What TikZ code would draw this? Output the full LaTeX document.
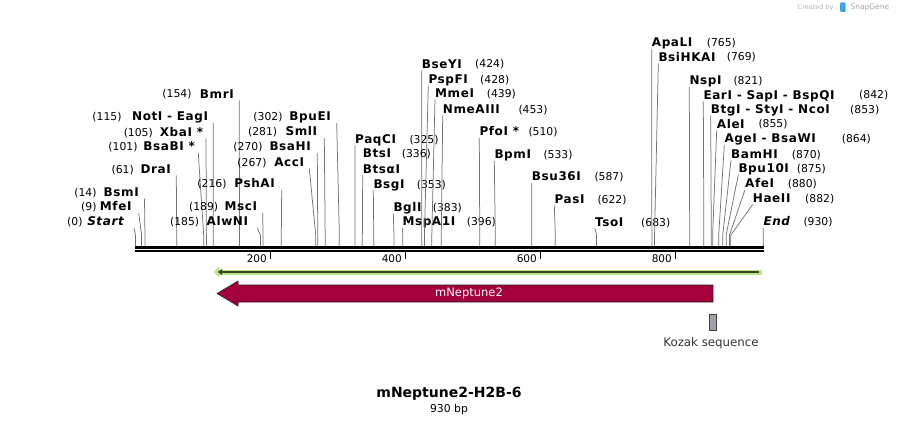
\documentclass[tikz,border=0pt]{standalone}
\usepackage{fontspec}
\setmainfont{DejaVu Sans}
\newfontfamily\enzfont[LetterSpace=5]{DejaVu Sans}
\usetikzlibrary{arrows.meta}
\definecolor{neptred}{RGB}{163,0,60}
\definecolor{featgreen}{RGB}{182,232,125}
\definecolor{featdark}{RGB}{58,66,46}
\definecolor{kozakgray}{RGB}{160,164,170}
\definecolor{sgblue}{RGB}{66,165,225}
\tikzset{
  ename/.style={font=\enzfont\fontsize{12}{14}\selectfont\bfseries, inner sep=0pt, text depth=2pt},
  epos/.style={font=\fontsize{10.8}{13}\selectfont, inner sep=0pt},
  cut/.style={draw=black!55, line width=0.75pt},
  ticklab/.style={font=\fontsize{10.5}{12}\selectfont, inner sep=0pt},
}

\begin{document}
\begin{tikzpicture}[x=1pt,y=-1pt]
		%%%%% START %%%%%
		\useasboundingbox (0,0) rectangle (899,425);
		
		% backbone
		\draw[line width=2.5pt] (135,247.3) -- (764,247.3);
		\draw[line width=1.8pt] (135,251.3) -- (764,251.3);
		
		\foreach \t in {200,400,600,800}{
			\pgfmathsetmacro\tx{135.5+0.675*\t}
			\draw[line width=1.5pt] (\tx,252) -- (\tx,259);
			\node[ticklab,anchor=east] (tick\t) at (\tx-3.5,259) {\t};
		}
		
		% sites, labels on the right
		\foreach \nm/\lx/\ly/\nx/\bp [count=\i] in {
			{PaqCI}/355/139/409.3/325,
			{BsgI}/373.3/184/416.7/353,
			{BglI}/393.3/207/432.7/383,
			{MspA1I}/402.3/221.7/466.7/396,
			{BseYI}/421.7/64/475/424,
			{PspFI}/428.3/79.3/480/428,
			{MmeI}/435/93.3/486.7/439,
			{NmeAIII}/442.7/109.3/518.3/453,
			{PfoI *}/479.3/131.7/528.3/510,
			{BpmI}/494.3/154.3/543.3/533,
			{Bsu36I}/531.7/176.7/594.3/587,
			{PasI}/554.3/199/597.3/622,
			{TsoI}/595/222/641/683,
			{ApaLI}/651.7/42.7/706.7/765,
			{BsiHKAI}/658.3/57/726.7/769,
			{NspI}/689.3/80.7/733.3/821,
			{EarI - SapI - BspQI}/703.3/95/859/842,
			{BtgI - StyI - NcoI}/710.7/109.3/850/853,
			{AleI}/716.7/124/758.3/855,
			{AgeI - BsaWI}/724.3/138.7/841.7/864,
			{BamHI}/731/154/791.7/870,
			{Bpu10I}/738.3/168.3/796.7/875,
			{AfeI}/745/183.3/787.7/880,
			{HaeII}/752.7/198/805/882,
			{\itshape End}/763.3/221.7/803.3/930}{
			\pgfmathsetmacro\sx{135.5+0.675*\bp}
			\node[ename,anchor=base west] (r\i) at (\lx,\ly+4.2) {\nm};
			\node[epos,anchor=base west] (rn\i) at (\nx,\ly+4) {(\bp)};
			\coordinate (rs\i) at (\sx,246);
			\draw[cut] (r\i.south west) -- (\sx,235) -- (rs\i);
		}
		
		% sites, labels on the left
		\foreach \nm/\rx/\ly/\nr/\g/\bp [count=\i] in {
			{\itshape Start}/124/221.7/82.7/10/0,
			{MfeI}/131.7/206.7/96.7/7/9,
			{BsmI}/139/192.3/96.7/5.5/14,
			{DraI}/171/169/134/5.3/61,
			{BsaBI *}/195/146.7/137.7/3.3/101,
			{XbaI *}/203.3/132/153/2.7/105,
			{NotI - EagI}/208.3/116.7/121.7/5/115,
			{BmrI}/234/94/191.7/5.3/154,
			{AlwNI}/248.3/221.7/199.3/9/185,
			{MscI}/257.3/206.7/218.3/5.4/189,
			{PshAI}/275/183.5/226.7/6.7/216,
			{AccI}/304.3/162/266.7/5/267,
			{BsaHI}/311/146.7/262.7/6.3/270,
			{SmlI}/317.3/131.7/277.3/7/281,
			{BpuEI}/331/116.7/282.7/5.7/302}{
			\pgfmathsetmacro\sx{135.5+0.675*\bp}
			\node[ename,anchor=base east] (l\i) at (\rx,\ly+4.2) {\nm};
			\node[epos,anchor=base east] (ln\i) at (\nr,\ly+4) {(\bp)};
			\coordinate (ls\i) at (\sx,246);
			\draw[cut] ([xshift=\g pt]l\i.south east) -- (\sx,235) -- (ls\i);
		}
		
		% BtsI and Btsalpha I share one site
		\node[ename,anchor=base west] (btsi) at (362.7,153.3+4.2) {BtsI};
		\node[epos,anchor=base west] (btsin) at (401.7,153.3+4) {(336)};
		\node[ename,anchor=base west] (btsa) at (362.7,169+4.2) {BtsαI};
		\coordinate (btss) at (362.3,246);
		\draw[cut] (btsa.south west) -- (btss);
		
		% features
		\draw[featgreen, line width=5pt, -{Triangle[length=5pt,width=11pt]}] (762,272) -- (214,272);
		\draw[featdark, line width=1.8pt, -{Triangle[length=4pt,width=6pt]}] (759,272) -- (218,272);
		
		\draw[fill=neptred, draw=black!85, line width=0.6pt] (713,285) -- (238,285) -- (238,281)
			-- (217,293.5) -- (238,306) -- (238,302) -- (713,302) -- cycle;
		\node[text=white, font=\fontsize{11.5}{13}\selectfont] (neptune) at (469,293.5) {mNeptune2};
		
		\draw[fill=kozakgray, draw=black!75, line width=0.6pt] (709.5,314) rectangle (716,330);
		\node[text=black!80, font=\fontsize{11.8}{14}\selectfont] (kozak) at (711,343) {Kozak sequence};
		
		% title
		\node[font=\fontsize{14}{16}\selectfont\bfseries] (title) at (449,394) {mNeptune2-H2B-6};
		\node[font=\fontsize{10.8}{12}\selectfont] (size) at (449,409.5) {930 bp};
		
		% corner mark
		\node[text=black!30, font=\fontsize{6.5}{8}\selectfont, anchor=east] (cby) at (837,7.5) {Created by};
		\fill[sgblue, rounded corners=1pt] (840,2.5) rectangle (845.5,12);
		\node[text=black!35, font=\fontsize{7.5}{9}\selectfont, anchor=west] (sg) at (847,7.5) {SnapGene};
		%%%%% END %%%%%
\end{tikzpicture}
\end{document}
